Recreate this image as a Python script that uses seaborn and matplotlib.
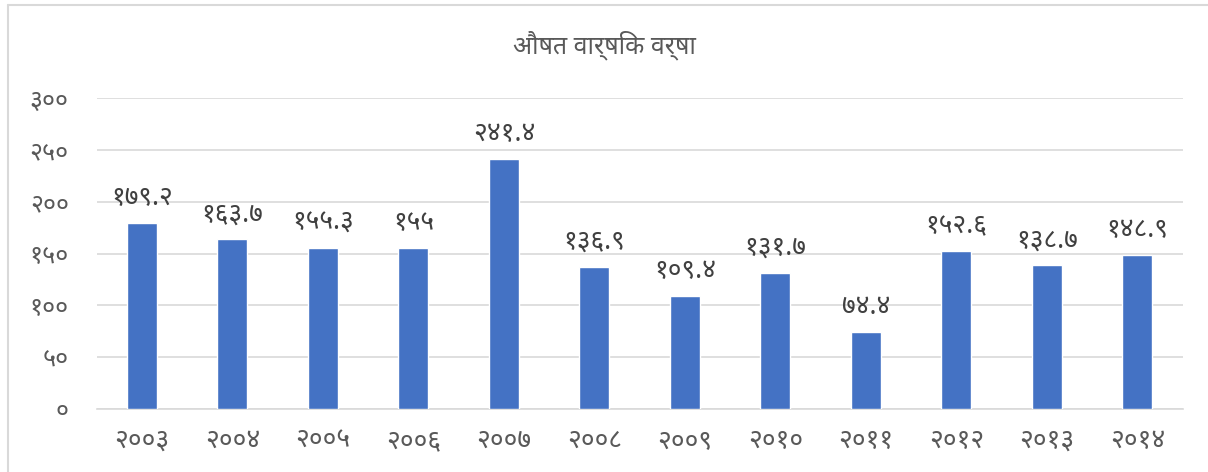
import matplotlib
matplotlib.use("Agg")
import pandas as pd
import seaborn as sns
import matplotlib.pyplot as plt
from matplotlib.lines import Line2D

years = ["२००३", "२००४", "२००५", "२००६", "२००७", "२००८",
         "२००९", "२०१०", "२०११", "२०१२", "२०१३", "२०१४"]
rainfall = [179.2, 163.7, 155.3, 155, 241.4, 136.9,
            109.4, 131.7, 74.4, 152.6, 138.7, 148.9]
bar_text = ["१७९.२", "१६३.७", "१५५.३", "१५५", "२४१.४", "१३६.९",
            "१०९.४", "१३१.७", "७४.४", "१५२.६", "१३८.७", "१४८.९"]
y_ticks = [0, 50, 100, 150, 200, 250, 300]
y_tick_text = ["०", "५०", "१००", "१५०", "२००", "२५०", "३००"]
title = "औषत वार्षिक वर्षा"

sns.set_style("white")
plt.rcParams['font.family'] = ['Noto Sans Devanagari', 'Noto Sans', 'DejaVu Sans']

df = pd.DataFrame({"Year": years, "Rain": rainfall})

fig = plt.figure(figsize=(12.08, 4.72), dpi=100)
ax = fig.add_axes([0.080, 0.1335, 0.899, 0.6585])

sns.barplot(data=df, x="Year", y="Rain", color="#4472C4", width=0.33,
            saturation=1, ax=ax, zorder=3)

ax.bar_label(ax.containers[0], labels=bar_text, padding=8,
             fontsize=19, color="#404040")

ax.set_ylim(0, 300)
ax.set_xlim(-0.5, len(years) - 0.5)
ax.set_yticks(y_ticks)
ax.set_yticklabels(y_tick_text)
ax.yaxis.grid(True, color="#D9D9D9", linewidth=1.2, zorder=0)
ax.tick_params(axis="y", length=0, pad=20, labelsize=18, labelcolor="#595959")
ax.tick_params(axis="x", length=0, pad=13, labelsize=19, labelcolor="#595959")
for s in ["top", "right", "left"]:
    ax.spines[s].set_visible(False)
ax.spines["bottom"].set_color("#D9D9D9")
ax.spines["bottom"].set_linewidth(1.2)
ax.set_xlabel("")
ax.set_ylabel("")

fig.text(0.5, 0.905, title, ha="center", va="center", fontsize=18, color="#595959")

# chart frame (top and left edges visible)
fig.add_artist(Line2D([8 / 1208, 1.0], [1 - 5 / 472, 1 - 5 / 472],
                      transform=fig.transFigure, color="#D9D9D9", linewidth=1.5))
fig.add_artist(Line2D([8 / 1208, 8 / 1208], [0.0, 1 - 5 / 472],
                      transform=fig.transFigure, color="#D9D9D9", linewidth=1.5))

fig.savefig("out.png", dpi=100)
